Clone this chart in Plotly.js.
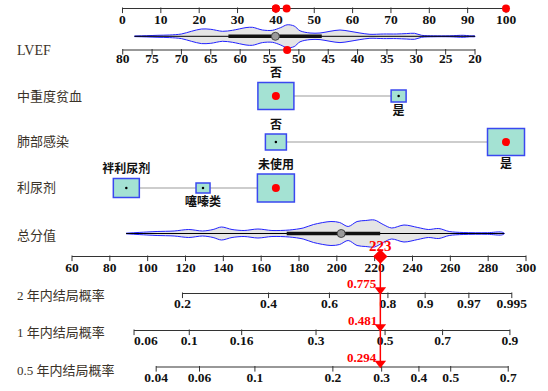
<!DOCTYPE html>
<html><head><meta charset="utf-8">
<script src="https://cdn.plot.ly/plotly-3.0.1.min.js"></script>
<style>html,body{margin:0;padding:0;background:#fff}#chart{width:548px;height:391px}</style>
</head><body><div id="chart"></div>
<script>
// ---------------- DATA ----------------
const pointsTicks = [0,10,20,30,40,50,60,70,80,90,100];
const lvefTicks = [80,75,70,65,60,55,50,45,40,35,30,25,20];
const totalTicks = [60,80,100,120,140,160,180,200,220,240,260,280,300];

const prob2Labels = ['0.2','0.4','0.6','0.8','0.9','0.97','0.995'];
const prob2Totals = [118.4,163.9,196.1,227,246.7,269.8,292.5];
const prob1Labels = ['0.06','0.1','0.16','0.3','0.5','0.7','0.9'];
const prob1Totals = [92.8,122,149.7,189,225.5,255.9,291.5];
const prob05Labels = ['0.04','0.06','0.1','0.2','0.3','0.4','0.5','0.7'];
const prob05Totals = [104.5,127.4,156.7,197.9,223.7,243.4,260.2,290.6];

const lvefViolinX = [78,76,74,72,70,68.3,66.6,65,63,61.3,59,57.9,56.2,54.5,53.1,52,50.8,49.8,48.1,46.4,44.7,43,41.3,39.6,37.9,35.6,33.4,31.7,30.3,29.1,27.1,24.3,22,20.9,20];
const lvefViolinDensity = [0.3,0.6,1,1.3,2.3,5,7.3,7,5,6,8.7,9,6.3,6,8.7,11.5,10.3,5.5,3.3,3.3,5,6.3,5,3.3,2,2.3,2.3,2.7,3,1,0.5,0.5,1,0.5,0.3];
const lvefBox = [46.1,54,62];          // lower hinge, median, upper hinge

const totalViolinX = [88.6,99.6,105,114,121.7,129,134.6,139,144.6,151,158.3,165.7,174.9,182.2,187.7,196.9,201.5,206,210.7,215.3,219.9,224.5,229,235.5,242.8,248.4,253.9,259.4,266.8,279.6,287,288.5];
const totalViolinDensity = [0.3,1.5,2,2.5,4,2.5,4,6.5,4,3,4.5,3,3.5,5.5,9,12,11,7,12,13,13.5,9,5.5,8.5,6,4,5,2,1,0.8,1.5,0.3];
const totalBox = [173.5,202.3,222.9];

const anemiaLevels = ['否','是'];
const anemiaPoints = [40,72];
const infectionLevels = ['否','是'];
const infectionPoints = [40,100];
const diureticLevels = ['袢利尿剂','噻嗪类','未使用'];
const diureticPoints = [1,21,40];

const patientLVEF = 52;
const patientLVEFPoints = 42.8;
const patientAnemia = '否';
const patientInfection = '是';
const patientDiuretic = '未使用';
const patientTotal = 223;
const patientProbs = ['0.775','0.481','0.294'];

// ---------------- LAYOUT / STYLE ----------------
const Y = {ptsAxis:8.5, ptsLab:20.5, lvefViolin:36.3, lvefAxis:50, lvefLab:59.5,
  anemia:96, infection:142, diuretic:188, totViolin:233.5, totAxis:256.5, totLab:268.5,
  p2Axis:293.5, p2Lab:305, p1Axis:330.5, p1Lab:341.5, p05Axis:367, p05Lab:379};
const rowLabels = [
  {t:'LVEF', y:50, f:'Liberation Serif', s:14},
  {t:'中重度贫血', y:96}, {t:'肺部感染', y:141}, {t:'利尿剂', y:187},
  {t:'总分值', y:235}, {t:'2 年内结局概率', y:295}, {t:'1 年内结局概率', y:332.5},
  {t:'0.5 年内结局概率', y:370}
];
const boxSizes = {anemia:[[36,27],[15,12]], infection:[[21,16],[37,27]], diuretic:[[26,19],[14,10],[37,28]]};
const labelSide = {anemia:['above','below'], infection:['above','below'], diuretic:['above','below','above']};
const AX = '#333', RED = '#ff0000', NUMF = 'Liberation Serif';
const BOXFILL = '#a4e2d3', BOXLINE = '#3a48f0';

const traces = [], shapes = [], annotations = [];
const bold = a => a.map(v => '<b>' + v + '</b>');

function axisLine(xa, vals, labels, yl, ylab, positions) {
  const mn = Math.min(...vals), mx = Math.max(...vals);
  traces.push({type:'scatter', mode:'lines', xaxis:xa, yaxis:'y', x:[mn,mx], y:[yl,yl],
    line:{color:AX, width:1.2}, hoverinfo:'skip'});
  traces.push({type:'scatter', mode:'markers', xaxis:xa, yaxis:'y', x:vals, y:vals.map(()=>yl+1.8),
    marker:{symbol:'line-ns', size:4, line:{color:AX, width:1}}, hoverinfo:'skip'});
  traces.push({type:'scatter', mode:'text', xaxis:xa, yaxis:'y', x:vals, y:vals.map(()=>ylab),
    text:bold(labels), textposition:positions || 'middle center',
    textfont:{family:NUMF, size:13.5, color:'#111'}, hoverinfo:'skip'});
}

function violin(xa, xs, dens, c, box) {
  const xx = xs.concat(xs.slice().reverse());
  const yy = dens.map(w => c - w).concat(dens.slice().reverse().map(w => c + w));
  traces.push({type:'scatter', mode:'lines', xaxis:xa, yaxis:'y', x:xx, y:yy, fill:'toself',
    fillcolor:'#e5e5e5', line:{color:'#2222ff', width:1, shape:'spline', smoothing:0.9}, hoverinfo:'skip'});
  traces.push({type:'scatter', mode:'lines', xaxis:xa, yaxis:'y', x:[xs[0], xs[xs.length-1]], y:[c,c],
    line:{color:'#000', width:1}, hoverinfo:'skip'});
  traces.push({type:'scatter', mode:'lines', xaxis:xa, yaxis:'y', x:[box[0], box[2]], y:[c,c],
    line:{color:'#111', width:3.5}, hoverinfo:'skip'});
  traces.push({type:'scatter', mode:'markers', xaxis:xa, yaxis:'y', x:[box[1]], y:[c],
    marker:{size:8, color:'#9a9a9a', line:{color:'#444', width:1}}, hoverinfo:'skip'});
}

function categorical(key, levels, pts, row, chosen) {
  for (let i = 0; i < pts.length - 1; i++) {
    shapes.push({type:'line', xref:'x', yref:'y', x0:pts[i], x1:pts[i+1], y0:row, y1:row,
      line:{color:'#bdbdbd', width:1.5}, layer:'below'});
  }
  const lx = [], ly = [], lt = [];
  pts.forEach((p, i) => {
    const [w, h] = boxSizes[key][i];
    shapes.push({type:'rect', xref:'x', yref:'y', xsizemode:'pixel', xanchor:p, x0:-w/2, x1:w/2,
      y0:row - h/2, y1:row + h/2, fillcolor:BOXFILL, line:{color:BOXLINE, width:1.5}, layer:'below'});
    lx.push(p); lt.push('<b>' + levels[i] + '</b>');
    ly.push(labelSide[key][i] === 'above' ? row - h/2 - 8.5 : row + h/2 + 9.5);
  });
  traces.push({type:'scatter', mode:'text', xaxis:'x', yaxis:'y', x:lx, y:ly, text:lt,
    textfont:{family:'Noto Sans CJK SC', size:12, color:'#111'}, hoverinfo:'skip'});
  const ci = levels.indexOf(chosen);
  const others = pts.filter((_, i) => i !== ci);
  traces.push({type:'scatter', mode:'markers', xaxis:'x', yaxis:'y', x:others, y:others.map(()=>row),
    marker:{size:2.5, color:'#000'}, hoverinfo:'skip'});
  traces.push({type:'scatter', mode:'markers', xaxis:'x', yaxis:'y', x:[pts[ci]], y:[row],
    marker:{size:8, color:RED}, hoverinfo:'skip'});
  return pts[ci];
}

// points axis
axisLine('x', pointsTicks, pointsTicks.map(String), Y.ptsAxis, Y.ptsLab);
// LVEF
violin('x3', lvefViolinX, lvefViolinDensity, Y.lvefViolin, lvefBox);
axisLine('x3', lvefTicks, lvefTicks.map(String), Y.lvefAxis, Y.lvefLab);
traces.push({type:'scatter', mode:'markers', xaxis:'x3', yaxis:'y', x:[patientLVEF], y:[Y.lvefAxis],
  marker:{size:8, color:RED}, hoverinfo:'skip'});
// categorical rows
const pA = categorical('anemia', anemiaLevels, anemiaPoints, Y.anemia, patientAnemia);
const pI = categorical('infection', infectionLevels, infectionPoints, Y.infection, patientInfection);
const pD = categorical('diuretic', diureticLevels, diureticPoints, Y.diuretic, patientDiuretic);
// red dots on the points axis
const chosenPts = [patientLVEFPoints, pA, pI, pD];
traces.push({type:'scatter', mode:'markers', xaxis:'x', yaxis:'y', x:chosenPts, y:chosenPts.map(()=>Y.ptsAxis),
  marker:{size:8, color:RED}, hoverinfo:'skip'});
// total
violin('x2', totalViolinX, totalViolinDensity, Y.totViolin, totalBox);
axisLine('x2', totalTicks, totalTicks.map(String), Y.totAxis, Y.totLab);
// probabilities
axisLine('x2', prob2Totals, prob2Labels, Y.p2Axis, Y.p2Lab);
axisLine('x2', prob1Totals, prob1Labels, Y.p1Axis, Y.p1Lab,
  prob1Labels.map((_, i) => i === 0 ? 'middle right' : 'middle center'));
axisLine('x2', prob05Totals, prob05Labels, Y.p05Axis, Y.p05Lab);

// red indicator
traces.push({type:'scatter', mode:'lines', xaxis:'x2', yaxis:'y', x:[patientTotal, patientTotal], y:[Y.totAxis, Y.p05Axis],
  line:{color:RED, width:1.5}, hoverinfo:'skip'});
traces.push({type:'scatter', mode:'markers', xaxis:'x2', yaxis:'y', x:[patientTotal], y:[Y.totAxis],
  marker:{symbol:'diamond', size:11, color:RED}, hoverinfo:'skip'});
const probAxes = [Y.p2Axis, Y.p1Axis, Y.p05Axis];
traces.push({type:'scatter', mode:'markers', xaxis:'x2', yaxis:'y', x:probAxes.map(()=>patientTotal), y:probAxes.map(v=>v-3.8),
  marker:{symbol:'triangle-down', size:10, color:RED}, hoverinfo:'skip'});
annotations.push({xref:'x2', yref:'y', x:patientTotal, y:Y.totAxis - 11, text:'<b>' + patientTotal + '</b>',
  showarrow:false, font:{family:NUMF, size:15, color:RED}, xanchor:'center', yanchor:'middle'});
probAxes.forEach((ya, i) => {
  annotations.push({xref:'x2', yref:'y', x:patientTotal, y:ya - 10, text:'<b>' + patientProbs[i] + '</b>',
    showarrow:false, font:{family:NUMF, size:13, color:RED}, xanchor:'right', yanchor:'middle', xshift:-1});
});
// row labels
rowLabels.forEach(r => {
  annotations.push({xref:'paper', yref:'y', x:15/548, y:r.y, text:r.t, showarrow:false, xanchor:'left', yanchor:'middle',
    font:{family:(r.f || 'Liberation Serif, Noto Sans CJK SC'), size:(r.s || 13), color:'#3a3228'}});
});

const layout = {
  width:548, height:391, margin:{l:0, r:0, t:0, b:0}, showlegend:false,
  paper_bgcolor:'#fff', plot_bgcolor:'#fff',
  xaxis:{range:[-31.94,110.95], visible:false, fixedrange:true},
  xaxis2:{range:[21.94,311.63], overlaying:'x', anchor:'y', visible:false, fixedrange:true},
  xaxis3:{range:[100.9,7.57], overlaying:'x', anchor:'y', visible:false, fixedrange:true},
  yaxis:{range:[391,0], visible:false, fixedrange:true},
  shapes:shapes, annotations:annotations
};
Plotly.newPlot('chart', traces, layout, {displayModeBar:false, staticPlot:true});
</script></body></html>
